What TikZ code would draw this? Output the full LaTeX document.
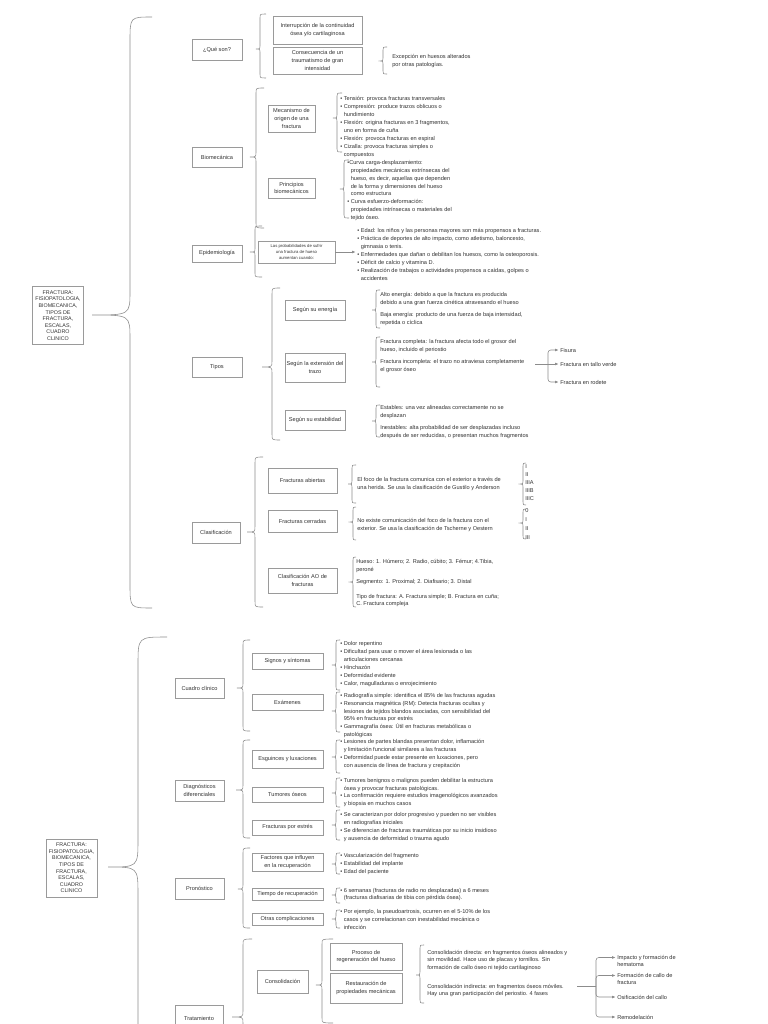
\documentclass[tikz,border=0pt]{standalone}
\usepackage{fontspec}
\setmainfont{Liberation Sans}
\usetikzlibrary{arrows.meta,shadows}
\definecolor{txt}{HTML}{333333}
\definecolor{lng}{HTML}{8C8C8C}
\definecolor{bxg}{HTML}{9A9A9A}
\newcommand{\fs}{\fontsize{4}{5.6}\selectfont}
\newcommand{\fss}{\fontsize{3}{4}\selectfont}
\newcommand{\frt}{\fontsize{3.8}{4.7}\selectfont}
\newcommand{\ind}{\phantom{•\ }}
\newcommand{\BX}[6]{\node[box, minimum width={(#4-#2)*0.025cm}, minimum height={(#5-#3)*0.025cm}] (#1) at ({(#2+#4)/2},{(#3+#5)/2}) {#6};}
\newcommand{\BR}[7]{\draw[brc] (#3,#4) .. controls (#2,#4) .. (#2,{#4+#7}) -- (#2,{#5-#7}) .. controls (#2,#5) .. (#1,#5) .. controls (#2,#5) .. (#2,{#5+#7}) -- (#2,{#6-#7}) .. controls (#2,#6) .. (#3,#6);}
\tikzset{
  box/.style={draw=bxg, line width=0.4pt, fill=white, align=center, inner sep=0.5pt, font=\fs, text=txt,
    drop shadow={shadow xshift=0.4pt, shadow yshift=-0.4pt, opacity=0.3, fill=black}},
  rootbox/.style={box, font=\frt, minimum width={51*0.025cm}, minimum height={58*0.025cm}},
  lst/.style={anchor=west, align=left, inner sep=0pt, font=\fs, text=txt},
  brc/.style={draw=lng, line width=0.4pt},
  arr/.style={draw=lng, line width=0.4pt, -{Latex[length=2.4pt,width=1.9pt]}, shorten >=1pt},
}
\begin{document}
\begin{tikzpicture}[x=0.025cm,y=-0.025cm]
\useasboundingbox[fill=white] (0,0) rectangle (768,1024);

% ================= TOP =================
\node[rootbox] (rootA) at (58,315.5) {FRACTURA:\\FISIOPATOLOGIA,\\BIOMECANICA,\\TIPOS DE\\FRACTURA,\\ESCALAS,\\CUADRO\\CLINICO};
\BR{92}{130}{152}{17}{315}{608}{24}

% Que son
\BX{que}{192}{39}{242}{60}{¿Qué son?}
\BR{256}{260}{266}{14}{49}{78}{4}
\BX{int}{273}{16}{362}{44}{Interrupción de la continuidad\\ósea y/o cartilaginosa}
\BX{cons}{273}{47}{362}{74}{Consecuencia de un\\traumatismo de gran\\intensidad}
\BR{380}{383}{387}{47}{61}{74}{3}
\node[lst] (exc) at (392,61) {Excepción en huesos alterados\\por otras patologías.};

% Biomecanica
\BX{bio}{192}{147}{242}{167}{Biomecánica}
\BR{250}{256}{264}{88}{157}{228}{5}
\BX{mec}{268}{105}{315}{132}{Mecanismo de\\origen de una\\fractura}
\BR{333}{337}{342}{93}{118}{152}{3}
\node[lst] (mecl) at (340,127) {• Tensión: provoca fracturas transversales\\• Compresión: produce trazos oblicuos o\\\ind hundimiento\\• Flexión: origina fracturas en 3 fragmentos,\\\ind uno en forma de cuña\\• Flexión: provoca fracturas en espiral\\• Cizalla: provoca fracturas simples o\\\ind compuestos};
\BX{pri}{268}{178}{315}{198}{Principios\\biomecánicos}
\BR{340}{344}{349}{160}{189}{218}{3}
\node[lst] (pril) at (347,190.5) {•Curva carga-desplazamiento:\\\ind propiedades mecánicas extrínsecas del\\\ind hueso, es decir, aquellas que dependen\\\ind de la forma y dimensiones del hueso\\\ind como estructura\\• Curva esfuerzo-deformación:\\\ind propiedades intrínsecas o materiales del\\\ind tejido óseo.};

% Epidemiologia
\BX{epi}{192}{245}{242}{262}{Epidemiología}
\BR{250}{255}{262}{226}{252}{277}{4}
\node[box, font=\fss, minimum width={77*0.025cm}, minimum height={22*0.025cm}] (prob) at (296.5,252) {Las probabilidades de sufrir\\una fractura de hueso\\aumentan cuando:};
\node[lst] (epil) at (357,254.5) {• Edad: los niños y las personas mayores son más propensos a fracturas.\\• Práctica de deportes de alto impacto, como atletismo, baloncesto,\\\ind gimnasia o tenis.\\• Enfermedades que dañan o debilitan los huesos, como la osteoporosis.\\• Déficit de calcio y vitamina D.\\• Realización de trabajos o actividades propensos a caídas, golpes o\\\ind accidentes};
\draw[arr] (prob) -- (prob -| epil.west);

% Tipos
\BX{tip}{192}{357}{242}{377}{Tipos}
\BR{262}{272}{280}{288}{367}{440}{6}
\BX{ene}{285}{300}{345}{320}{Según su energía}
\BX{ext}{285}{353}{345}{382}{Según la extensión del\\trazo}
\BX{est}{285}{410}{345}{430}{Según su estabilidad}
\BR{372}{376}{380}{290}{310}{328}{3}
\node[lst] (ene1) at (380,299) {Alto energía: debido a que la fractura es producida\\debido a una gran fuerza cinética atravesando el hueso};
\node[lst] (ene2) at (380,319) {Baja energía: producto de una fuerza de baja intensidad,\\repetida o cíclica};
\BR{372}{376}{380}{337}{362}{387}{3}
\node[lst] (ext1) at (380,346) {Fractura completa: la fractura afecta todo el grosor del\\hueso, incluido el periostio};
\node[lst] (ext2) at (380,366) {Fractura incompleta: el trazo no atraviesa completamente\\el grosor óseo};
\BR{372}{376}{380}{405}{421}{437}{3}
\node[lst] (est1) at (380,412) {Estables: una vez alineadas correctamente no se\\desplazan};
\node[lst] (est2) at (380,432) {Inestables: alta probabilidad de ser desplazadas incluso\\después de ser reducidas, o presentan muchos fragmentos};
\coordinate (fs0) at (535,364);
\coordinate (fsj) at (548,364);
\node[lst] (fis) at (560,350) {Fisura};
\node[lst] (tal) at (560,364) {Fractura en tallo verde};
\node[lst] (rod) at (560,382) {Fractura en rodete};
\draw[brc] (fs0) -- (fsj);
\draw[arr, rounded corners=2pt] (fsj) |- (fis.west);
\draw[arr] (fsj) -- (tal.west);
\draw[arr, rounded corners=2pt] (fsj) |- (rod.west);

% Clasificacion
\BX{cla}{192}{522}{240}{543}{Clasificación}
\BR{247}{255}{263}{457}{532}{607}{6}
\BX{abi}{268}{468}{337}{493}{Fracturas abiertas}
\BX{cer}{268}{510}{337}{532}{Fracturas cerradas}
\BX{ao}{268}{568}{337}{593}{Clasificación AO de\\fracturas}
\BR{348}{352}{356}{465}{484}{503}{3}
\node[lst] (abil) at (357,484) {El foco de la fractura comunica con el exterior a través de\\una herida. Se usa la clasificación de Gustilo y Anderson};
\BR{520}{523}{526}{463}{484}{505}{3}
\node[lst, font=\fontsize{4}{5.8}\selectfont] (gus) at (525,482.5) {I\\II\\IIIA\\IIIB\\IIIC};
\BR{350}{353}{356}{507}{522}{540}{3}
\node[lst] (cerl) at (357,525) {No existe comunicación del foco de la fractura con el\\exterior. Se usa la clasificación de Tscherne y Oestern};
\BR{520}{523}{526}{509}{523}{539}{3}
\node[lst, font=\fontsize{4}{6.3}\selectfont] (tsc) at (525,524) {0\\I\\II\\III};
\BR{350}{353}{356}{557}{582}{607}{3}
\node[lst] (ao1) at (356,566) {Hueso: 1. Húmero; 2. Radio, cúbito; 3. Fémur; 4.Tibia,\\peroné};
\node[lst] (ao2) at (356,582) {Segmento: 1. Proximal; 2. Diafisario; 3. Distal};
\node[lst] (ao3) at (356,600.5) {Tipo de fractura: A. Fractura simple; B. Fractura en cuña;\\C. Fractura compleja};

% ================= BOTTOM =================
\node[rootbox] (rootB) at (71.5,868) {FRACTURA:\\FISIOPATOLOGIA,\\BIOMECANICA,\\TIPOS DE\\FRACTURA,\\ESCALAS,\\CUADRO\\CLINICO};
\BR{108}{138}{167}{637}{867}{1100}{28}

% Cuadro clinico
\BX{cc}{175}{678}{224}{698}{Cuadro clínico}
\BR{237}{243}{250}{640}{688}{731}{5}
\BX{sig}{252}{653}{323}{669}{Signos y síntomas}
\BX{exa}{252}{694}{323}{710}{Exámenes}
\BR{332}{336}{340}{640}{665}{690}{3}
\node[lst] (sigl) at (340,664) {• Dolor repentino\\• Dificultad para usar o mover el área lesionada o las\\\ind articulaciones cercanas\\• Hinchazón\\• Deformidad evidente\\• Calor, magulladuras o enrojecimiento};
\BR{332}{336}{340}{692}{711}{732}{3}
\node[lst] (exal) at (340,715.5) {• Radiografía simple: identifica el 85\% de las fracturas agudas\\• Resonancia magnética (RM): Detecta fracturas ocultas y\\\ind lesiones de tejidos blandos asociadas, con sensibilidad del\\\ind 95\% en fracturas por estrés\\• Gammagrafía ósea: Útil en fracturas metabólicas o\\\ind patológicas};

% Diagnosticos diferenciales
\BX{dd}{175}{780}{224}{801}{Diagnósticos\\diferenciales}
\BR{236}{243}{250}{740}{790}{838}{5}
\BX{esg}{252}{750}{323}{768}{Esguinces y luxaciones}
\BX{tum}{252}{787}{323}{802}{Tumores óseos}
\BX{fpe}{252}{820}{323}{835}{Fracturas por estrés}
\BR{332}{336}{340}{740}{757}{773}{3}
\node[lst] (esgl) at (340,754) {• Lesiones de partes blandas presentan dolor, inflamación\\\ind y limitación funcional similares a las fracturas\\• Deformidad puede estar presente en luxaciones, pero\\\ind con ausencia de línea de fractura y crepitación};
\BR{332}{336}{340}{778}{793}{807}{3}
\node[lst] (tuml) at (340,792.5) {• Tumores benignos o malignos pueden debilitar la estructura\\\ind ósea y provocar fracturas patológicas.\\• La confirmación requiere estudios imagenológicos avanzados\\\ind y biopsia en muchos casos};
\BR{332}{336}{340}{810}{825}{840}{3}
\node[lst] (fpel) at (340,827) {• Se caracterizan por dolor progresivo y pueden no ser visibles\\\ind en radiografías iniciales\\• Se diferencian de fracturas traumáticas por su inicio insidioso\\\ind y ausencia de deformidad o trauma agudo};

% Pronostico
\BX{pro}{175}{878}{224}{899}{Pronóstico}
\BR{238}{243}{250}{848}{889}{928}{5}
\BX{fac}{252}{853}{323}{871}{Factores que influyen\\en la recuperación}
\BX{tie}{252}{888}{323}{900}{Tiempo de recuperación}
\BX{otr}{252}{913}{323}{925}{Otras complicaciones}
\BR{332}{336}{340}{853}{864}{874}{3}
\node[lst] (facl) at (340,864) {• Vascularización del fragmento\\• Estabilidad del implante\\• Edad del paciente};
\BR{332}{336}{340}{888}{895}{903}{3}
\node[lst] (tiel) at (340,894.5) {• 6 semanas (fracturas de radio no desplazadas) a 6 meses\\\ind (fracturas diafisarias de tibia con pérdida ósea).};
\BR{332}{336}{340}{910}{919}{928}{3}
\node[lst] (otrl) at (340,919.5) {• Por ejemplo, la pseudoartrosis, ocurren en el 5-10\% de los\\\ind casos y se correlacionan con inestabilidad mecánica o\\\ind infección};

% Tratamiento
\BX{tra}{175}{1005}{223}{1032}{Tratamiento}
\BR{232}{243}{252}{939}{1017}{1100}{6}
\BX{con}{257}{970}{308}{993}{Consolidación}
\BR{316}{322}{333}{939}{985}{1023}{5}
\BX{proc}{330}{943}{402}{970}{Proceso de\\regeneración del hueso}
\BX{res}{330}{973}{402}{1003}{Restauración de\\propiedades mecánicas}
\BR{416}{420}{424}{945}{975}{1003}{3}
\node[lst] (cdir) at (427,960.5) {Consolidación directa: en fragmentos óseos alineados y\\sin movilidad. Hace uso de placas y tornillos. Sin\\formación de callo óseo ni tejido cartilaginoso};
\node[lst] (cind) at (427,990.5) {Consolidación indirecta: en fragmentos óseos móviles.\\Hay una gran participación del periostio. 4 fases};
\coordinate (ph0) at (577,986);
\coordinate (phj) at (596,986);
\node[lst] (imp) at (617,961) {Impacto y formación de\\hematoma};
\node[lst] (fcal) at (617,979) {Formación de callo de\\fractura};
\node[lst] (osi) at (617,997) {Osificación del callo};
\node[lst] (rem) at (617,1017) {Remodelación};
\draw[brc] (ph0) -- (phj);
\draw[arr, rounded corners=2pt] (phj) |- ([yshift=2.5pt]imp.west);
\draw[arr, rounded corners=2pt] (phj) |- ([yshift=2.5pt]fcal.west);
\draw[arr, rounded corners=2pt] (phj) |- (osi.west);
\draw[arr, rounded corners=2pt] (phj) |- (rem.west);
\end{tikzpicture}
\end{document}
